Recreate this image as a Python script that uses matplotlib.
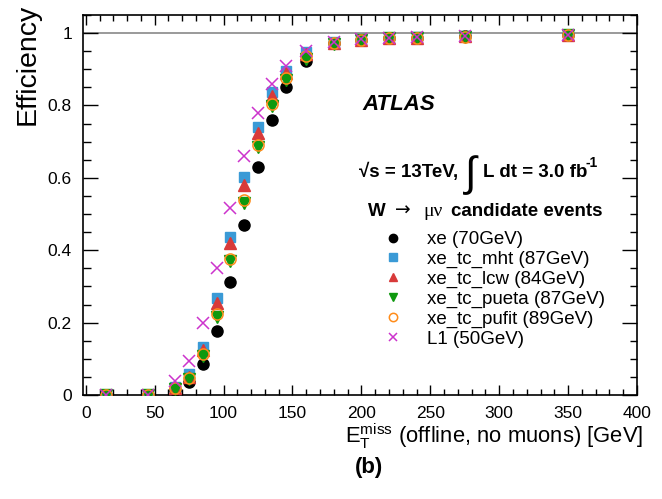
import matplotlib
matplotlib.use("Agg")
import matplotlib.pyplot as plt
from matplotlib.ticker import MultipleLocator, FormatStrFormatter

plt.rcParams['font.family'] = ['Liberation Sans', 'DejaVu Sans']
plt.rcParams['mathtext.fontset'] = 'custom'
plt.rcParams['mathtext.rm'] = 'Liberation Sans'
plt.rcParams['mathtext.it'] = 'Liberation Sans:italic'
plt.rcParams['mathtext.bf'] = 'Liberation Sans:bold'

# ---- data ----
met = [15, 45, 65, 75, 85, 95, 105, 115, 125, 135, 145, 160, 180, 200, 220, 240, 275, 350]
eff_xe     = [0.0, 0.0, 0.015, 0.037, 0.086, 0.177, 0.313, 0.471, 0.629, 0.759, 0.851, 0.923, 0.973, 0.982, 0.987, 0.987, 0.991, 0.996]
eff_mht    = [0.0, 0.0, 0.023, 0.058, 0.133, 0.269, 0.437, 0.601, 0.741, 0.836, 0.895, 0.948, 0.975, 0.983, 0.987, 0.988, 0.991, 0.996]
eff_lcw    = [0.0, 0.0, 0.020, 0.050, 0.124, 0.253, 0.419, 0.580, 0.724, 0.826, 0.890, 0.943, 0.972, 0.982, 0.987, 0.987, 0.991, 0.996]
eff_pueta  = [0.0, 0.0, 0.016, 0.043, 0.108, 0.216, 0.371, 0.531, 0.684, 0.798, 0.871, 0.929, 0.971, 0.981, 0.986, 0.987, 0.990, 0.996]
eff_pufit  = [0.0, 0.0, 0.020, 0.046, 0.112, 0.223, 0.377, 0.538, 0.691, 0.803, 0.876, 0.936, 0.972, 0.981, 0.986, 0.987, 0.990, 0.996]
eff_l1     = [0.0, 0.0, 0.039, 0.094, 0.200, 0.351, 0.517, 0.660, 0.778, 0.860, 0.908, 0.950, 0.975, 0.983, 0.987, 0.988, 0.991, 0.996]
labels = ["xe (70GeV)", "xe_tc_mht (87GeV)", "xe_tc_lcw (84GeV)",
          "xe_tc_pueta (87GeV)", "xe_tc_pufit (89GeV)", "L1 (50GeV)"]
xticks = [0, 50, 100, 150, 200, 250, 300, 350, 400]
yticks = [0, 0.2, 0.4, 0.6, 0.8, 1.0]

W, H = 662, 499
AX_L, AX_R, AX_T, AX_B = 83, 637, 15, 395
fig = plt.figure(figsize=(W/100, H/100), dpi=100)
ax = fig.add_axes([AX_L/W, 1-AX_B/H, (AX_R-AX_L)/W, (AX_B-AX_T)/H])

def px(x, y):
    return x/W, 1-y/H

def axc(x, y):
    return (x-AX_L)/(AX_R-AX_L), (AX_B-y)/(AX_B-AX_T)

ax.axhline(1.0, color='#9a9a9a', lw=1.4, zorder=1)

styles = [
    dict(marker='o', color='black', ms=8, ls='none'),
    dict(marker='s', color='#3a9ad6', ms=7.5, ls='none'),
    dict(marker='^', color='#d83a3a', ms=8, ls='none'),
    dict(marker='v', color='#0f990f', ms=8, ls='none'),
    dict(marker='o', mfc='none', mec='#ff8c1a', ms=8, mew=1.1, ls='none'),
    dict(marker='x', color='#cc33cc', ms=8, mew=1.1, ls='none'),
]
series = [eff_xe, eff_mht, eff_lcw, eff_pueta, eff_pufit, eff_l1]
handles = []
for s, st, lab in zip(series, styles, labels):
    h, = ax.plot(met, s, label=lab, zorder=3, **st)
    handles.append(h)

ax.set_xlim(-2, 400)
ax.set_ylim(0, 1.05)
ax.set_xticks(xticks)
ax.set_yticks(yticks)
ax.xaxis.set_minor_locator(MultipleLocator(10))
ax.yaxis.set_minor_locator(MultipleLocator(0.05))
ax.yaxis.set_major_formatter(FormatStrFormatter('%g'))
ax.tick_params(axis='both', which='both', direction='in', top=True, right=True, labelsize=12.5)
ax.tick_params(axis='x', which='major', length=7.2, width=1.0, pad=8)
ax.tick_params(axis='x', which='minor', length=4.3, width=1.0)
ax.tick_params(axis='y', which='major', length=10.8, width=1.0, pad=8)
ax.tick_params(axis='y', which='minor', length=5.4, width=1.0)
for sp in ax.spines.values():
    sp.set_linewidth(1.2)

ax.set_xlabel(r'E$_\mathregular{T}^\mathregular{miss}$ (offline, no muons) [GeV]',
              fontsize=15.8, ha='right', va='baseline')
ax.xaxis.set_label_coords(*axc(643, 443))
ax.set_ylabel('Efficiency', fontsize=20.5, ha='left', va='baseline', rotation_mode='anchor')
ax.yaxis.set_label_coords(*axc(35, 125))

# annotation texts
fig.text(*px(362, 110), 'ATLAS', fontsize=16, fontweight='bold', fontstyle='italic', va='baseline')
fig.text(*px(359, 177), '√s = 13TeV,', fontsize=13.5, fontweight='bold', va='baseline')
fig.text(*px(465, 186), '∫', fontsize=30, fontweight='normal', va='baseline')
fig.text(*px(483, 177), 'L dt = 3.0 fb', fontsize=13.5, fontweight='bold', va='baseline')
fig.text(*px(586, 167), '-1', fontsize=10, fontweight='bold', va='baseline')
fig.text(*px(368, 216), 'W', fontsize=13.5, fontweight='bold', va='baseline')
fig.text(*px(395, 216), '→', fontsize=13.5, va='baseline', family=['DejaVu Sans'])
fig.text(*px(423, 216), 'μν', fontsize=14, va='baseline', family=['Liberation Serif', 'DejaVu Serif'])
fig.text(*px(451, 216), 'candidate events', fontsize=13.5, fontweight='bold', va='baseline')

leg = ax.legend(handles=handles, loc='upper left', bbox_to_anchor=px(384, 231),
                bbox_transform=fig.transFigure, frameon=False, fontsize=13.5,
                handlelength=1.0, handletextpad=1.3, labelspacing=0.14,
                markerscale=0.75, borderpad=0, borderaxespad=0)

fig.text(*px(369, 467), '(b)', fontsize=16, fontweight='bold', ha='center', va='center')

fig.savefig('out.png', dpi=100)
